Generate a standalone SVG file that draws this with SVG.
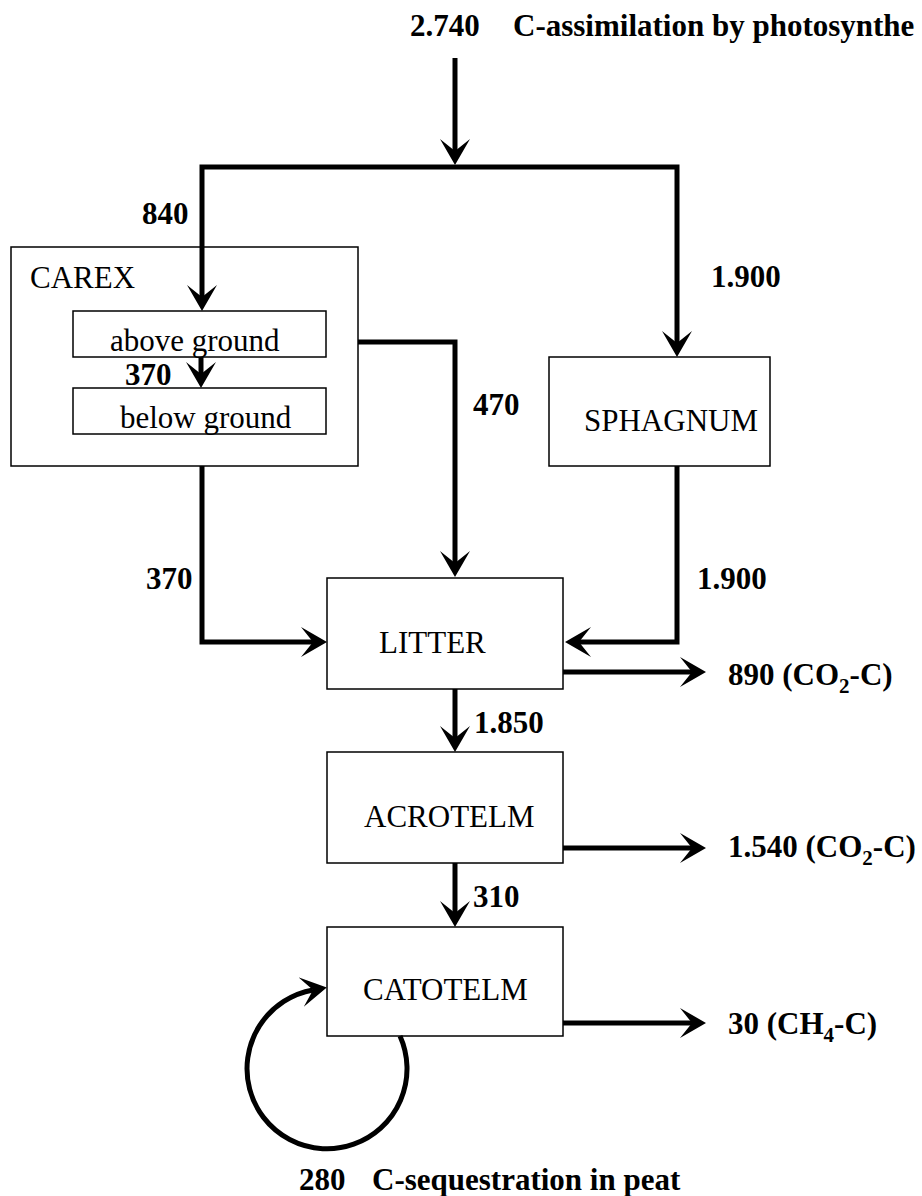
<svg xmlns="http://www.w3.org/2000/svg" width="922" height="1196" viewBox="0 0 922 1196">
<style>
.box{fill:#fff;stroke:#000;stroke-width:1.5}
.nt{font-family:"Liberation Serif","Times New Roman",serif;font-size:31px;fill:#000}
.lb{font-family:"Liberation Serif","Times New Roman",serif;font-size:31px;font-weight:bold;fill:#000}
.sub{font-size:21px}
.ca{fill:none;stroke:#000;stroke-width:5;stroke-linejoin:miter;stroke-miterlimit:10;marker-end:url(#ah)}
</style>
<defs>
<marker id="ah" viewBox="0 0 26 30" markerWidth="26" markerHeight="30" refX="12" refY="15" orient="auto" markerUnits="userSpaceOnUse">
<path d="M0,0 L26,15 L0,30 L12,15 Z" fill="#000"/>
</marker>
</defs>
<rect width="922" height="1196" fill="#fff"/>
<g id="carex">
<rect class="box" x="11" y="247" width="347" height="219"/>
<text class="nt" x="30" y="288">CAREX</text>
</g>
<g id="above-ground">
<rect class="box" x="73" y="311" width="253" height="46"/>
<text class="nt" x="110" y="351">above ground</text>
</g>
<g id="below-ground">
<rect class="box" x="73" y="388" width="253" height="46"/>
<text class="nt" x="120" y="428">below ground</text>
</g>
<g id="sphagnum">
<rect class="box" x="549" y="357" width="221" height="109"/>
<text class="nt" x="584" y="431">SPHAGNUM</text>
</g>
<g id="litter">
<rect class="box" x="327" y="578" width="236" height="111"/>
<text class="nt" x="379" y="653">LITTER</text>
</g>
<g id="acrotelm">
<rect class="box" x="327" y="752" width="236" height="111"/>
<text class="nt" x="364" y="827">ACROTELM</text>
</g>
<g id="catotelm">
<rect class="box" x="327" y="927" width="236" height="109"/>
<text class="nt" x="363" y="1000">CATOTELM</text>
</g>
<g id="connectors">
<path class="ca" d="M455,58 V151"/>
<path class="ca" d="M455,167 H202 V297"/>
<path class="ca" d="M455,167 H677 V343"/>
<path class="ca" d="M201,357 V374"/>
<path class="ca" d="M358,342 H455 V563"/>
<path class="ca" d="M202,466 V642 H313"/>
<path class="ca" d="M677,466 V642 H579"/>
<path class="ca" d="M563,672 H692"/>
<path class="ca" d="M455,689 V738"/>
<path class="ca" d="M563,848 H692"/>
<path class="ca" d="M455,863 V913"/>
<path class="ca" d="M563,1023 H692"/>
<path class="ca" d="M400,1036 A80,80 0 1,1 313,990"/>
</g>
<g id="labels">
<text class="lb" x="410" y="36">2.740</text>
<text class="lb" x="513" y="36">C-assimilation by photosynthe</text>
<text class="lb" x="142" y="224">840</text>
<text class="lb" x="711" y="287">1.900</text>
<text class="lb" x="125" y="385">370</text>
<text class="lb" x="473" y="415">470</text>
<text class="lb" x="146" y="589">370</text>
<text class="lb" x="697" y="589">1.900</text>
<text class="lb" x="728" y="685">890 (CO<tspan class="sub" dy="8">2</tspan><tspan dy="-8">-C)</tspan></text>
<text class="lb" x="474" y="733">1.850</text>
<text class="lb" x="728" y="857">1.540 (CO<tspan class="sub" dy="8">2</tspan><tspan dy="-8">-C)</tspan></text>
<text class="lb" x="473" y="907">310</text>
<text class="lb" x="728" y="1034">30 (CH<tspan class="sub" dy="8">4</tspan><tspan dy="-8">-C)</tspan></text>
<text class="lb" x="299" y="1190">280</text>
<text class="lb" x="372" y="1190">C-sequestration in peat</text>
</g>
</svg>
